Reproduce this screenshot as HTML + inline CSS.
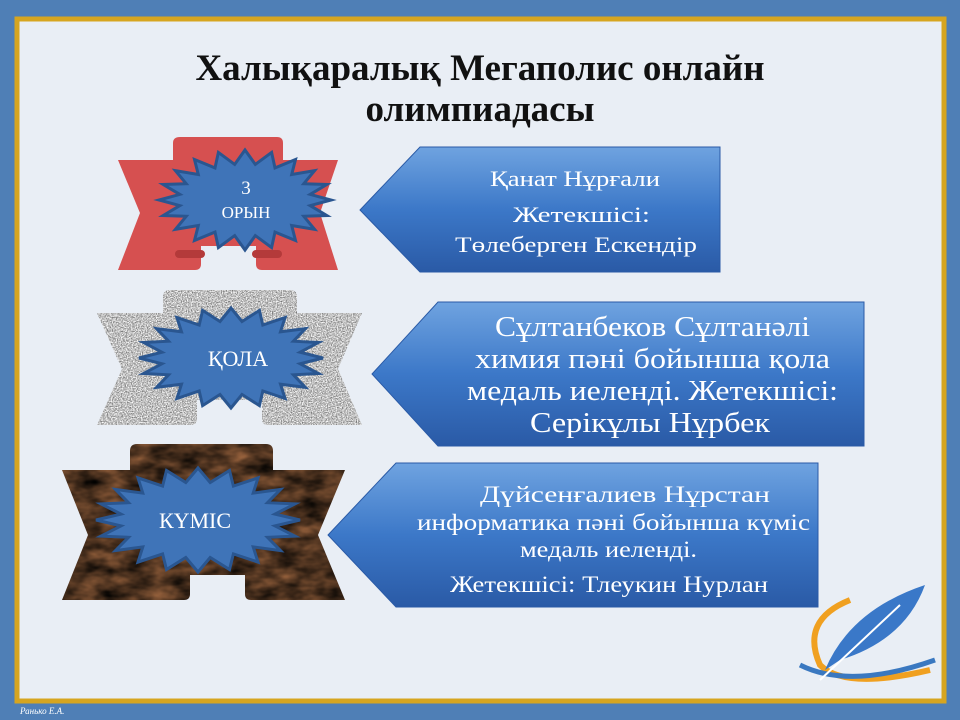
<!DOCTYPE html>
<html><head><meta charset="utf-8"><style>
html,body{margin:0;padding:0;width:960px;height:720px;overflow:hidden}
svg{display:block}
text{font-family:"Liberation Serif",serif}
</style></head><body>
<svg width="960" height="720" viewBox="0 0 960 720" xmlns="http://www.w3.org/2000/svg">
<defs>
<linearGradient id="bl" x1="0" y1="0" x2="0" y2="1">
<stop offset="0" stop-color="#6fa3e0"/><stop offset="0.5" stop-color="#3c78c8"/><stop offset="1" stop-color="#2a5aa6"/></linearGradient>
<filter id="fgn" color-interpolation-filters="sRGB">
<feTurbulence type="fractalNoise" baseFrequency="0.8" numOctaves="2" seed="5" result="n"/>
<feColorMatrix in="n" type="matrix" values="1.1 0 0 0 0.2  1.1 0 0 0 0.2  1.1 0 0 0 0.2  0 0 0 0 1" result="g"/>
<feComposite in="g" in2="SourceGraphic" operator="in"/>
</filter>
<filter id="fbn" color-interpolation-filters="sRGB">
<feTurbulence type="fractalNoise" baseFrequency="0.04 0.08" numOctaves="3" seed="2" result="n"/>
<feColorMatrix in="n" type="matrix" values="0.7 0 0 0 -0.05  0.45 0 0 0 -0.03  0.28 0 0 0 -0.02  0 0 0 0 1" result="g"/>
<feComposite in="g" in2="SourceGraphic" operator="in"/>
</filter>
</defs>
<rect width="960" height="720" fill="#4f7fb6"/>
<rect x="17" y="19" width="927" height="682" fill="#e9eef5" stroke="#d6a520" stroke-width="5"/>
<text x="480" y="80" font-size="37" font-weight="bold" text-anchor="middle" fill="#111">Халықаралық Мегаполис онлайн</text>
<text x="480" y="121" font-size="37" font-weight="bold" text-anchor="middle" fill="#111">олимпиадасы</text>

<path d="M180 137 H277 Q283 137 283 143 V160 H338 L320 213 L338 270 H262 Q256 270 256 264 V246 H201 V264 Q201 270 195 270 H118 L140 213 L118 160 H173 V143 Q173 137 180 137Z" fill="#d65050"/>
<rect x="175" y="250" width="30" height="8" rx="4" fill="#b43a3a"/><rect x="252" y="250" width="30" height="8" rx="4" fill="#b43a3a"/>
<path d="M170 290 H290 Q297 290 297 297 V313 H362 L338 369 L362 425 H268 Q262 425 262 419 V400 H197 V419 Q197 425 191 425 H97 L122 369 L97 313 H163 V297 Q163 290 170 290Z" fill="#b0b0b0" filter="url(#fgn)"/>
<path d="M137 444 H266 Q273 444 273 451 V470 H345 L318 535 L345 600 H251 Q245 600 245 594 V575 H190 V594 Q190 600 184 600 H62 L88 535 L62 470 H130 V451 Q130 444 137 444Z" fill="#4a2f1e" filter="url(#fbn)"/>

<g id="stars" fill="#3f74b8" stroke="#2a5690" stroke-width="3"></g>

<path d="M420 147 H720 V272 H420 L360 210Z" fill="url(#bl)" stroke="#2a5aa6"/>
<path d="M438 302 H864 V446 H438 L372 374Z" fill="url(#bl)" stroke="#2a5aa6"/>
<path d="M396 463 H818 V607 H396 L328 535Z" fill="url(#bl)" stroke="#2a5aa6"/>

<g fill="#fff" font-size="22">
<text x="490" y="186" textLength="170" lengthAdjust="spacingAndGlyphs">Қанат Нұрғали</text>
<text x="513" y="222" textLength="137" lengthAdjust="spacingAndGlyphs">Жетекшісі:</text>
<text x="455" y="252" textLength="242" lengthAdjust="spacingAndGlyphs">Төлеберген  Ескендір</text>
</g>
<g fill="#fff" font-size="29">
<text x="495" y="336" textLength="315" lengthAdjust="spacingAndGlyphs">Сұлтанбеков Сұлтанәлі</text>
<text x="475" y="368" textLength="355" lengthAdjust="spacingAndGlyphs">химия пәні бойынша қола</text>
<text x="467" y="400" textLength="371" lengthAdjust="spacingAndGlyphs">медаль иеленді. Жетекшісі:</text>
<text x="530" y="432" textLength="240" lengthAdjust="spacingAndGlyphs">Серікұлы Нұрбек</text>
</g>
<g fill="#fff" font-size="23">
<text x="480" y="502" textLength="290" lengthAdjust="spacingAndGlyphs">Дүйсенғалиев Нұрстан</text>
<text x="417" y="530" textLength="393" lengthAdjust="spacingAndGlyphs">информатика пәні бойынша күміс</text>
<text x="520" y="557" textLength="177" lengthAdjust="spacingAndGlyphs">медаль иеленді.</text>
<text x="450" y="592" textLength="318" lengthAdjust="spacingAndGlyphs">Жетекшісі: Тлеукин Нурлан</text>
</g>

<path d="M850 600 Q800 620 820 665 Q845 690 930 670" fill="none" stroke="#f0a020" stroke-width="6"/>
<path d="M800 665 Q850 690 935 660" fill="none" stroke="#3a78c0" stroke-width="5"/>
<path d="M825 670 Q850 610 925 585 Q905 640 840 660Z" fill="#3a78c8"/>
<path d="M820 680 L900 605" stroke="#fff" stroke-width="2"/>
<text x="20" y="714" font-size="9" font-style="italic" fill="#fff">Ранько Е.А.</text>
</svg>
<script>
function star(cx,cy,rx,ry,ix,iy,n){var p=[];for(var i=0;i<2*n;i++){var a=Math.PI*i/n;var o=i%2==0;p.push((cx+(o?rx:ix)*Math.cos(a)).toFixed(1)+','+(cy+(o?ry:iy)*Math.sin(a)).toFixed(1));}return p.join(' ');}
var g=document.getElementById('stars');
[[245,200,86,50,66,36],[231,358,92,50,70,37],[198,520,102,52,78,38]].forEach(function(s){var e=document.createElementNS('http://www.w3.org/2000/svg','polygon');e.setAttribute('points',star(s[0],s[1],s[2],s[3],s[4],s[5],20));g.appendChild(e);});
</script>
<svg style="position:absolute;left:0;top:0" width="960" height="720"><g fill="#fff" font-family="Liberation Serif" text-anchor="middle">
<text x="246" y="194" font-size="19">3</text><text x="246" y="218" font-size="17">ОРЫН</text>
<text x="238" y="366" font-size="22">ҚОЛА</text>
<text x="195" y="528" font-size="22">КҮМІС</text></g></svg>
</body></html>
